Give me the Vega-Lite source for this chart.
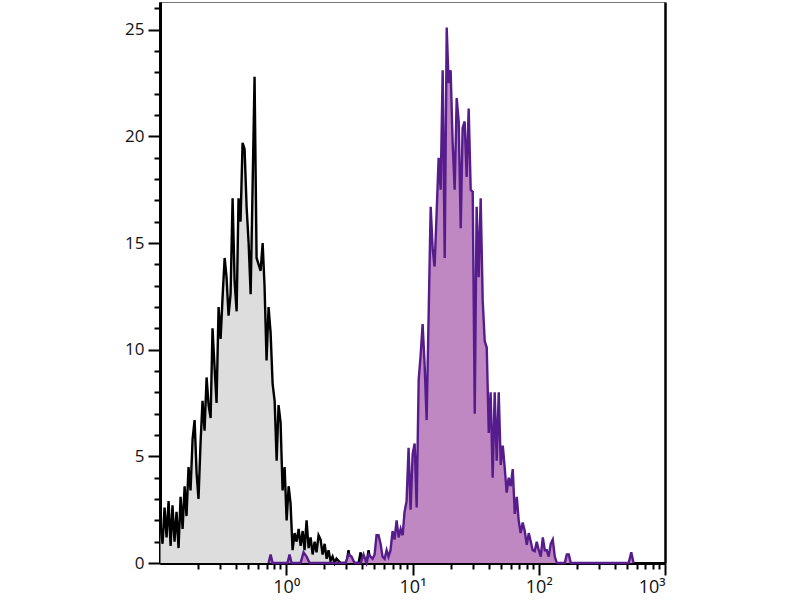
{
  "$schema": "https://vega.github.io/schema/vega-lite/v6.json",
  "width": 505,
  "height": 561,
  "autosize": "none",
  "padding": {"left": 160, "top": 2, "right": 135, "bottom": 37},
  "config": {
    "view": {"stroke": null},
    "axis": {"grid": false, "zindex": 1, "domainColor": "#000000", "tickColor": "#000000", "labelColor": "#111111", "labelFont": "Open Sans", "title": null}
  },
  "data": {
    "values": [
      {"sample": "control", "log_intensity": -0.996, "count": 1.8},
      {"sample": "control", "log_intensity": -0.980, "count": 0.9},
      {"sample": "control", "log_intensity": -0.964, "count": 2.6},
      {"sample": "control", "log_intensity": -0.948, "count": 1.2},
      {"sample": "control", "log_intensity": -0.932, "count": 2.9},
      {"sample": "control", "log_intensity": -0.916, "count": 0.8},
      {"sample": "control", "log_intensity": -0.901, "count": 2.7},
      {"sample": "control", "log_intensity": -0.885, "count": 1.0},
      {"sample": "control", "log_intensity": -0.869, "count": 2.4},
      {"sample": "control", "log_intensity": -0.853, "count": 0.7},
      {"sample": "control", "log_intensity": -0.837, "count": 3.1},
      {"sample": "control", "log_intensity": -0.821, "count": 1.6},
      {"sample": "control", "log_intensity": -0.805, "count": 3.6},
      {"sample": "control", "log_intensity": -0.790, "count": 2.2},
      {"sample": "control", "log_intensity": -0.774, "count": 4.5},
      {"sample": "control", "log_intensity": -0.758, "count": 3.4},
      {"sample": "control", "log_intensity": -0.742, "count": 5.8},
      {"sample": "control", "log_intensity": -0.726, "count": 6.7},
      {"sample": "control", "log_intensity": -0.710, "count": 4.2},
      {"sample": "control", "log_intensity": -0.695, "count": 3.0},
      {"sample": "control", "log_intensity": -0.679, "count": 5.6},
      {"sample": "control", "log_intensity": -0.663, "count": 7.6},
      {"sample": "control", "log_intensity": -0.647, "count": 6.2},
      {"sample": "control", "log_intensity": -0.631, "count": 8.7},
      {"sample": "control", "log_intensity": -0.615, "count": 7.4},
      {"sample": "control", "log_intensity": -0.599, "count": 6.8},
      {"sample": "control", "log_intensity": -0.584, "count": 11.0},
      {"sample": "control", "log_intensity": -0.568, "count": 9.2},
      {"sample": "control", "log_intensity": -0.552, "count": 7.5},
      {"sample": "control", "log_intensity": -0.536, "count": 12.0},
      {"sample": "control", "log_intensity": -0.520, "count": 10.5},
      {"sample": "control", "log_intensity": -0.504, "count": 12.5},
      {"sample": "control", "log_intensity": -0.488, "count": 14.3},
      {"sample": "control", "log_intensity": -0.473, "count": 13.4},
      {"sample": "control", "log_intensity": -0.457, "count": 11.6},
      {"sample": "control", "log_intensity": -0.441, "count": 12.6},
      {"sample": "control", "log_intensity": -0.425, "count": 17.1},
      {"sample": "control", "log_intensity": -0.409, "count": 13.2},
      {"sample": "control", "log_intensity": -0.393, "count": 11.8},
      {"sample": "control", "log_intensity": -0.378, "count": 17.1},
      {"sample": "control", "log_intensity": -0.362, "count": 16.0},
      {"sample": "control", "log_intensity": -0.346, "count": 19.7},
      {"sample": "control", "log_intensity": -0.330, "count": 19.4},
      {"sample": "control", "log_intensity": -0.314, "count": 16.7},
      {"sample": "control", "log_intensity": -0.298, "count": 15.0},
      {"sample": "control", "log_intensity": -0.282, "count": 12.6},
      {"sample": "control", "log_intensity": -0.267, "count": 17.5},
      {"sample": "control", "log_intensity": -0.251, "count": 22.8},
      {"sample": "control", "log_intensity": -0.235, "count": 14.3},
      {"sample": "control", "log_intensity": -0.219, "count": 14.0},
      {"sample": "control", "log_intensity": -0.203, "count": 13.7},
      {"sample": "control", "log_intensity": -0.187, "count": 15.0},
      {"sample": "control", "log_intensity": -0.172, "count": 13.0},
      {"sample": "control", "log_intensity": -0.156, "count": 9.5},
      {"sample": "control", "log_intensity": -0.140, "count": 12.0},
      {"sample": "control", "log_intensity": -0.124, "count": 10.8},
      {"sample": "control", "log_intensity": -0.108, "count": 8.4},
      {"sample": "control", "log_intensity": -0.092, "count": 7.6},
      {"sample": "control", "log_intensity": -0.076, "count": 4.8},
      {"sample": "control", "log_intensity": -0.061, "count": 7.4},
      {"sample": "control", "log_intensity": -0.045, "count": 6.6},
      {"sample": "control", "log_intensity": -0.029, "count": 3.4},
      {"sample": "control", "log_intensity": -0.013, "count": 4.5},
      {"sample": "control", "log_intensity": 0.003, "count": 2.0},
      {"sample": "control", "log_intensity": 0.019, "count": 3.6},
      {"sample": "control", "log_intensity": 0.034, "count": 2.8},
      {"sample": "control", "log_intensity": 0.050, "count": 0.6},
      {"sample": "control", "log_intensity": 0.066, "count": 1.4},
      {"sample": "control", "log_intensity": 0.082, "count": 1.0},
      {"sample": "control", "log_intensity": 0.098, "count": 1.6},
      {"sample": "control", "log_intensity": 0.114, "count": 0.8},
      {"sample": "control", "log_intensity": 0.130, "count": 1.5},
      {"sample": "control", "log_intensity": 0.145, "count": 0.6},
      {"sample": "control", "log_intensity": 0.161, "count": 2.0},
      {"sample": "control", "log_intensity": 0.177, "count": 0.7},
      {"sample": "control", "log_intensity": 0.193, "count": 1.2},
      {"sample": "control", "log_intensity": 0.209, "count": 0.4},
      {"sample": "control", "log_intensity": 0.225, "count": 1.0},
      {"sample": "control", "log_intensity": 0.240, "count": 0.5},
      {"sample": "control", "log_intensity": 0.256, "count": 1.3},
      {"sample": "control", "log_intensity": 0.272, "count": 1.1},
      {"sample": "control", "log_intensity": 0.288, "count": 0.4},
      {"sample": "control", "log_intensity": 0.304, "count": 0.9},
      {"sample": "control", "log_intensity": 0.320, "count": 0.2},
      {"sample": "control", "log_intensity": 0.335, "count": 0.6},
      {"sample": "control", "log_intensity": 0.351, "count": 0.1},
      {"sample": "control", "log_intensity": 0.367, "count": 0.3},
      {"sample": "control", "log_intensity": 0.383, "count": 0.0},
      {"sample": "control", "log_intensity": 0.398, "count": 0.2},
      {"sample": "control", "log_intensity": 0.430, "count": 0.0},
      {"sample": "control", "log_intensity": 0.478, "count": 0.0},
      {"sample": "control", "log_intensity": 0.493, "count": 0.6},
      {"sample": "control", "log_intensity": 0.509, "count": 0.0},
      {"sample": "control", "log_intensity": 0.573, "count": 0.0},
      {"sample": "control", "log_intensity": 0.589, "count": 0.5},
      {"sample": "control", "log_intensity": 0.604, "count": 0.0},
      {"sample": "control", "log_intensity": 0.636, "count": 0.0},
      {"sample": "control", "log_intensity": 0.652, "count": 0.6},
      {"sample": "control", "log_intensity": 0.668, "count": 0.0},
      {"sample": "control", "log_intensity": 0.747, "count": 0.0},

      {"sample": "stained", "log_intensity": -0.140, "count": 0.0},
      {"sample": "stained", "log_intensity": -0.124, "count": 0.4},
      {"sample": "stained", "log_intensity": -0.108, "count": 0.0},
      {"sample": "stained", "log_intensity": 0.010, "count": 0.0},
      {"sample": "stained", "log_intensity": 0.026, "count": 0.4},
      {"sample": "stained", "log_intensity": 0.042, "count": 0.0},
      {"sample": "stained", "log_intensity": 0.113, "count": 0.0},
      {"sample": "stained", "log_intensity": 0.137, "count": 0.5},
      {"sample": "stained", "log_intensity": 0.161, "count": 0.3},
      {"sample": "stained", "log_intensity": 0.185, "count": 0.0},
      {"sample": "stained", "log_intensity": 0.470, "count": 0.0},
      {"sample": "stained", "log_intensity": 0.493, "count": 0.4},
      {"sample": "stained", "log_intensity": 0.517, "count": 0.3},
      {"sample": "stained", "log_intensity": 0.541, "count": 0.0},
      {"sample": "stained", "log_intensity": 0.589, "count": 0.0},
      {"sample": "stained", "log_intensity": 0.612, "count": 0.4},
      {"sample": "stained", "log_intensity": 0.636, "count": 0.0},
      {"sample": "stained", "log_intensity": 0.652, "count": 0.4},
      {"sample": "stained", "log_intensity": 0.668, "count": 0.3},
      {"sample": "stained", "log_intensity": 0.684, "count": 0.2},
      {"sample": "stained", "log_intensity": 0.700, "count": 0.4},
      {"sample": "stained", "log_intensity": 0.715, "count": 1.3},
      {"sample": "stained", "log_intensity": 0.731, "count": 1.3},
      {"sample": "stained", "log_intensity": 0.747, "count": 0.9},
      {"sample": "stained", "log_intensity": 0.763, "count": 0.3},
      {"sample": "stained", "log_intensity": 0.779, "count": 0.2},
      {"sample": "stained", "log_intensity": 0.795, "count": 0.6},
      {"sample": "stained", "log_intensity": 0.810, "count": 0.3},
      {"sample": "stained", "log_intensity": 0.826, "count": 0.6},
      {"sample": "stained", "log_intensity": 0.842, "count": 1.5},
      {"sample": "stained", "log_intensity": 0.858, "count": 1.1},
      {"sample": "stained", "log_intensity": 0.874, "count": 2.0},
      {"sample": "stained", "log_intensity": 0.890, "count": 1.2},
      {"sample": "stained", "log_intensity": 0.906, "count": 1.6},
      {"sample": "stained", "log_intensity": 0.922, "count": 1.3},
      {"sample": "stained", "log_intensity": 0.937, "count": 2.4},
      {"sample": "stained", "log_intensity": 0.953, "count": 2.9},
      {"sample": "stained", "log_intensity": 0.969, "count": 5.4},
      {"sample": "stained", "log_intensity": 0.985, "count": 2.5},
      {"sample": "stained", "log_intensity": 1.001, "count": 5.1},
      {"sample": "stained", "log_intensity": 1.017, "count": 5.6},
      {"sample": "stained", "log_intensity": 1.033, "count": 2.6},
      {"sample": "stained", "log_intensity": 1.049, "count": 8.6},
      {"sample": "stained", "log_intensity": 1.064, "count": 9.7},
      {"sample": "stained", "log_intensity": 1.080, "count": 11.2},
      {"sample": "stained", "log_intensity": 1.096, "count": 9.3},
      {"sample": "stained", "log_intensity": 1.112, "count": 6.7},
      {"sample": "stained", "log_intensity": 1.128, "count": 11.7},
      {"sample": "stained", "log_intensity": 1.144, "count": 16.7},
      {"sample": "stained", "log_intensity": 1.160, "count": 14.7},
      {"sample": "stained", "log_intensity": 1.175, "count": 13.9},
      {"sample": "stained", "log_intensity": 1.191, "count": 16.4},
      {"sample": "stained", "log_intensity": 1.207, "count": 19.0},
      {"sample": "stained", "log_intensity": 1.223, "count": 17.5},
      {"sample": "stained", "log_intensity": 1.239, "count": 23.1},
      {"sample": "stained", "log_intensity": 1.255, "count": 14.3},
      {"sample": "stained", "log_intensity": 1.271, "count": 25.1},
      {"sample": "stained", "log_intensity": 1.286, "count": 22.5},
      {"sample": "stained", "log_intensity": 1.302, "count": 23.1},
      {"sample": "stained", "log_intensity": 1.318, "count": 19.7},
      {"sample": "stained", "log_intensity": 1.334, "count": 17.5},
      {"sample": "stained", "log_intensity": 1.350, "count": 21.8},
      {"sample": "stained", "log_intensity": 1.366, "count": 20.7},
      {"sample": "stained", "log_intensity": 1.382, "count": 15.7},
      {"sample": "stained", "log_intensity": 1.397, "count": 20.4},
      {"sample": "stained", "log_intensity": 1.413, "count": 20.7},
      {"sample": "stained", "log_intensity": 1.429, "count": 18.1},
      {"sample": "stained", "log_intensity": 1.445, "count": 21.3},
      {"sample": "stained", "log_intensity": 1.461, "count": 17.5},
      {"sample": "stained", "log_intensity": 1.477, "count": 17.4},
      {"sample": "stained", "log_intensity": 1.493, "count": 7.0},
      {"sample": "stained", "log_intensity": 1.508, "count": 16.7},
      {"sample": "stained", "log_intensity": 1.524, "count": 13.4},
      {"sample": "stained", "log_intensity": 1.540, "count": 17.1},
      {"sample": "stained", "log_intensity": 1.556, "count": 12.3},
      {"sample": "stained", "log_intensity": 1.572, "count": 10.4},
      {"sample": "stained", "log_intensity": 1.588, "count": 10.1},
      {"sample": "stained", "log_intensity": 1.604, "count": 6.1},
      {"sample": "stained", "log_intensity": 1.619, "count": 8.0},
      {"sample": "stained", "log_intensity": 1.635, "count": 4.0},
      {"sample": "stained", "log_intensity": 1.651, "count": 8.0},
      {"sample": "stained", "log_intensity": 1.667, "count": 4.8},
      {"sample": "stained", "log_intensity": 1.683, "count": 8.0},
      {"sample": "stained", "log_intensity": 1.699, "count": 4.6},
      {"sample": "stained", "log_intensity": 1.715, "count": 5.5},
      {"sample": "stained", "log_intensity": 1.730, "count": 4.5},
      {"sample": "stained", "log_intensity": 1.746, "count": 3.3},
      {"sample": "stained", "log_intensity": 1.762, "count": 4.0},
      {"sample": "stained", "log_intensity": 1.778, "count": 3.6},
      {"sample": "stained", "log_intensity": 1.794, "count": 4.4},
      {"sample": "stained", "log_intensity": 1.810, "count": 2.3},
      {"sample": "stained", "log_intensity": 1.826, "count": 3.1},
      {"sample": "stained", "log_intensity": 1.841, "count": 2.0},
      {"sample": "stained", "log_intensity": 1.857, "count": 1.4},
      {"sample": "stained", "log_intensity": 1.873, "count": 1.9},
      {"sample": "stained", "log_intensity": 1.889, "count": 1.5},
      {"sample": "stained", "log_intensity": 1.905, "count": 0.85},
      {"sample": "stained", "log_intensity": 1.921, "count": 1.4},
      {"sample": "stained", "log_intensity": 1.937, "count": 1.0},
      {"sample": "stained", "log_intensity": 1.952, "count": 0.6},
      {"sample": "stained", "log_intensity": 1.968, "count": 0.55},
      {"sample": "stained", "log_intensity": 1.984, "count": 1.0},
      {"sample": "stained", "log_intensity": 2.000, "count": 0.6},
      {"sample": "stained", "log_intensity": 2.016, "count": 0.3},
      {"sample": "stained", "log_intensity": 2.032, "count": 1.2},
      {"sample": "stained", "log_intensity": 2.048, "count": 0.6},
      {"sample": "stained", "log_intensity": 2.063, "count": 0.6},
      {"sample": "stained", "log_intensity": 2.079, "count": 0.3},
      {"sample": "stained", "log_intensity": 2.095, "count": 0.9},
      {"sample": "stained", "log_intensity": 2.111, "count": 1.1},
      {"sample": "stained", "log_intensity": 2.127, "count": 0.3},
      {"sample": "stained", "log_intensity": 2.143, "count": 0.0},
      {"sample": "stained", "log_intensity": 2.206, "count": 0.0},
      {"sample": "stained", "log_intensity": 2.222, "count": 0.4},
      {"sample": "stained", "log_intensity": 2.238, "count": 0.4},
      {"sample": "stained", "log_intensity": 2.254, "count": 0.0},
      {"sample": "stained", "log_intensity": 2.712, "count": 0.0},
      {"sample": "stained", "log_intensity": 2.733, "count": 0.5},
      {"sample": "stained", "log_intensity": 2.751, "count": 0.0}
    ]
  },
  "encoding": {
    "x": {"field": "log_intensity", "type": "quantitative", "scale": {"domain": [-1, 3], "nice": false, "zero": false}},
    "y": {"field": "count", "type": "quantitative", "scale": {"domain": [0, 26.3], "nice": false}}
  },
  "layer": [
    {
      "transform": [{"filter": "datum.sample === 'control'"}],
      "mark": {"type": "area", "color": "#dddddd", "interpolate": "linear"},
      "encoding": {
        "x": {"field": "log_intensity", "type": "quantitative", "axis": {"orient": "bottom", "values": [0, 1, 2, 3], "labelExpr": "'10' + ['⁰','¹','²','³'][datum.value]", "domainWidth": 3, "domainColor": "#000000", "tickWidth": 2, "tickSize": 12, "labelFontSize": 18, "labelPadding": 3}},
        "y": {"field": "count", "type": "quantitative", "axis": {"orient": "left", "values": [0, 5, 10, 15, 20, 25], "domainWidth": 3, "domainColor": "#000000", "tickWidth": 2, "tickSize": 12, "labelFontSize": 17, "labelPadding": 4}}
      }
    },
    {
      "transform": [{"filter": "datum.sample === 'control'"}],
      "mark": {"type": "line", "color": "#000000", "strokeWidth": 2.4, "interpolate": "linear"},
      "encoding": {
        "x": {"field": "log_intensity", "type": "quantitative", "axis": {"orient": "bottom", "values": [-0.699, -0.523, -0.398, -0.301, -0.222, -0.155, -0.097, -0.046, 0.301, 0.477, 0.602, 0.699, 0.778, 0.845, 0.903, 0.954, 1.301, 1.477, 1.602, 1.699, 1.778, 1.845, 1.903, 1.954, 2.301, 2.477, 2.602, 2.699, 2.778, 2.845, 2.903, 2.954], "labels": false, "domainWidth": 3, "domainColor": "#000000", "tickWidth": 2, "tickSize": 6}},
        "y": {"field": "count", "type": "quantitative", "axis": {"orient": "left", "values": [1, 2, 3, 4, 6, 7, 8, 9, 11, 12, 13, 14, 16, 17, 18, 19, 21, 22, 23, 24, 26], "labels": false, "domainWidth": 3, "domainColor": "#000000", "tickWidth": 2, "tickSize": 6}}
      }
    },
    {
      "transform": [{"filter": "datum.sample === 'stained'"}],
      "mark": {"type": "area", "color": "#bf88c2", "interpolate": "linear"},
      "encoding": {
        "x": {"field": "log_intensity", "type": "quantitative", "axis": {"orient": "top", "labels": false, "ticks": false, "domainWidth": 1.2, "domainColor": "#777777"}},
        "y": {"field": "count", "type": "quantitative", "axis": {"orient": "right", "labels": false, "ticks": false, "domainWidth": 2.5}}
      }
    },
    {
      "transform": [{"filter": "datum.sample === 'stained'"}],
      "mark": {"type": "line", "color": "#561c8c", "strokeWidth": 2.4, "interpolate": "linear"},
      "encoding": {
        "x": {"field": "log_intensity", "type": "quantitative", "axis": null},
        "y": {"field": "count", "type": "quantitative", "axis": null}
      }
    }
  ],
  "resolve": {"axis": {"x": "independent", "y": "independent"}}
}
